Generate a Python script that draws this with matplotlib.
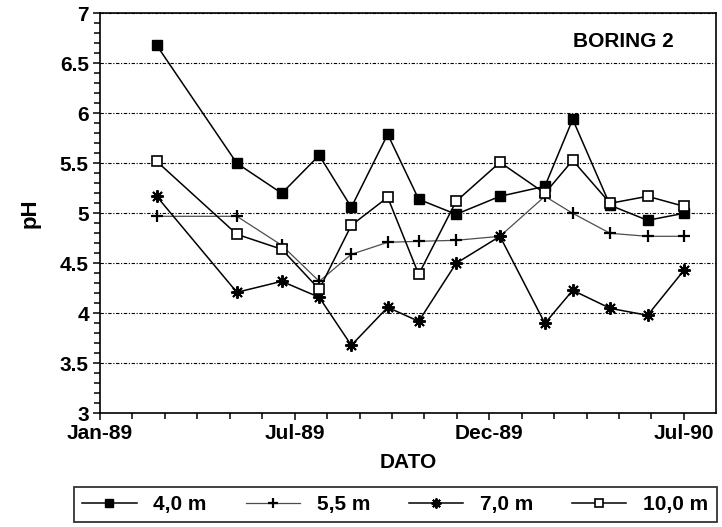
import datetime as dt
import numpy as np
import matplotlib
matplotlib.use("Agg")
import matplotlib.pyplot as plt
import matplotlib.dates as mdates
from matplotlib.ticker import MultipleLocator, FixedLocator

plt.rcParams['font.family'] = ['Liberation Sans', 'DejaVu Sans']
plt.rcParams['font.weight'] = 'bold'

# sampling dates, BORING 2
dates = ['1989-02-23', '1989-05-09', '1989-06-20', '1989-07-25', '1989-08-24',
         '1989-09-27', '1989-10-26', '1989-11-30', '1990-01-10', '1990-02-21',
         '1990-03-19', '1990-04-23', '1990-05-28', '1990-07-01']

# pH per depth
ph_40 = [6.68, 5.50, 5.20, 5.58, 5.06, 5.79, 5.14, 4.99, 5.17, 5.27, 5.94, 5.08, 4.93, 5.00]
ph_55 = [4.97, 4.97, 4.68, 4.32, 4.59, 4.71, 4.72, 4.73, 4.77, 5.17, 5.00, 4.80, 4.77, 4.77]
ph_70 = [5.17, 4.21, 4.32, 4.16, 3.68, 4.06, 3.92, 4.50, 4.77, 3.90, 4.23, 4.05, 3.98, 4.43]
ph_100 = [5.52, 4.79, 4.64, 4.24, 4.88, 5.16, 4.39, 5.12, 5.51, 5.20, 5.53, 5.10, 5.17, 5.07]

labels = ['4,0 m', '5,5 m', '7,0 m', '10,0 m']

x = [dt.datetime.strptime(d, '%Y-%m-%d') for d in dates]

fig = plt.figure(figsize=(7.22, 5.27), dpi=100)
ax = fig.add_axes([0.1385, 0.2157, 0.8532, 0.7591])

ax.plot(x, ph_40, color='black', lw=1.1, marker='s', ms=7, mfc='black', mec='black', label=labels[0])
ax.plot(x, ph_55, color='0.3', lw=0.9, marker='+', ms=9, mew=1.6, mec='black', label=labels[1])
ax.plot(x, ph_70, color='black', lw=1.1, marker=(8, 2, 0), ms=9, mew=1.4, mec='black', label=labels[2])
ax.plot(x, ph_100, color='black', lw=1.1, marker='s', ms=7, mfc='white', mec='black', mew=1.2, label=labels[3])

# x axis: ticks every 182 days from Jan 1989, six minor steps each
start = dt.datetime(1989, 1, 1)
major = [start + dt.timedelta(days=182 * k) for k in range(4)]
minor = [start + dt.timedelta(days=182 / 6 * k) for k in range(20)]
ax.set_xlim(start, start + dt.timedelta(days=576))
ax.xaxis.set_major_locator(FixedLocator(mdates.date2num(major)))
ax.xaxis.set_minor_locator(FixedLocator(mdates.date2num(minor)))
ax.xaxis.set_major_formatter(mdates.DateFormatter('%b-%y'))

ax.set_ylim(3, 7)
ax.yaxis.set_major_locator(MultipleLocator(0.5))
ax.yaxis.set_minor_locator(MultipleLocator(0.1))
ax.yaxis.set_major_formatter(matplotlib.ticker.FuncFormatter(lambda v, p: f'{v:g}'))

ax.yaxis.grid(True, which='major', color='black', lw=0.8, linestyle=(0, (3, 1.5, 1, 1.5)))

ax.tick_params(axis='both', which='both', direction='out', width=1.1, labelsize=15)
ax.tick_params(axis='both', which='major', length=5, pad=3)
ax.tick_params(axis='both', which='minor', length=4)
for s in ax.spines.values():
    s.set_linewidth(1.2)
    s.set_color('black')

ax.set_xlabel('DATO', fontsize=15, fontweight='bold', labelpad=7)
ax.set_ylabel('pH', fontsize=16, fontweight='bold', labelpad=14)

ax.text(0.85, 0.93, 'BORING 2', transform=ax.transAxes, ha='center', va='center',
        fontsize=15, fontweight='bold')

leg = fig.legend(loc='center', bbox_to_anchor=(0.1025, 0.002, 0.89, 0.082), mode='expand',
                 ncol=4, fontsize=15, frameon=True, fancybox=False, borderaxespad=0,
                 handlelength=2.6, handletextpad=0.8, columnspacing=1.2, markerscale=0.8)
leg.get_frame().set_edgecolor('black')
leg.get_frame().set_linewidth(1.3)

fig.savefig('out.png', dpi=100)
